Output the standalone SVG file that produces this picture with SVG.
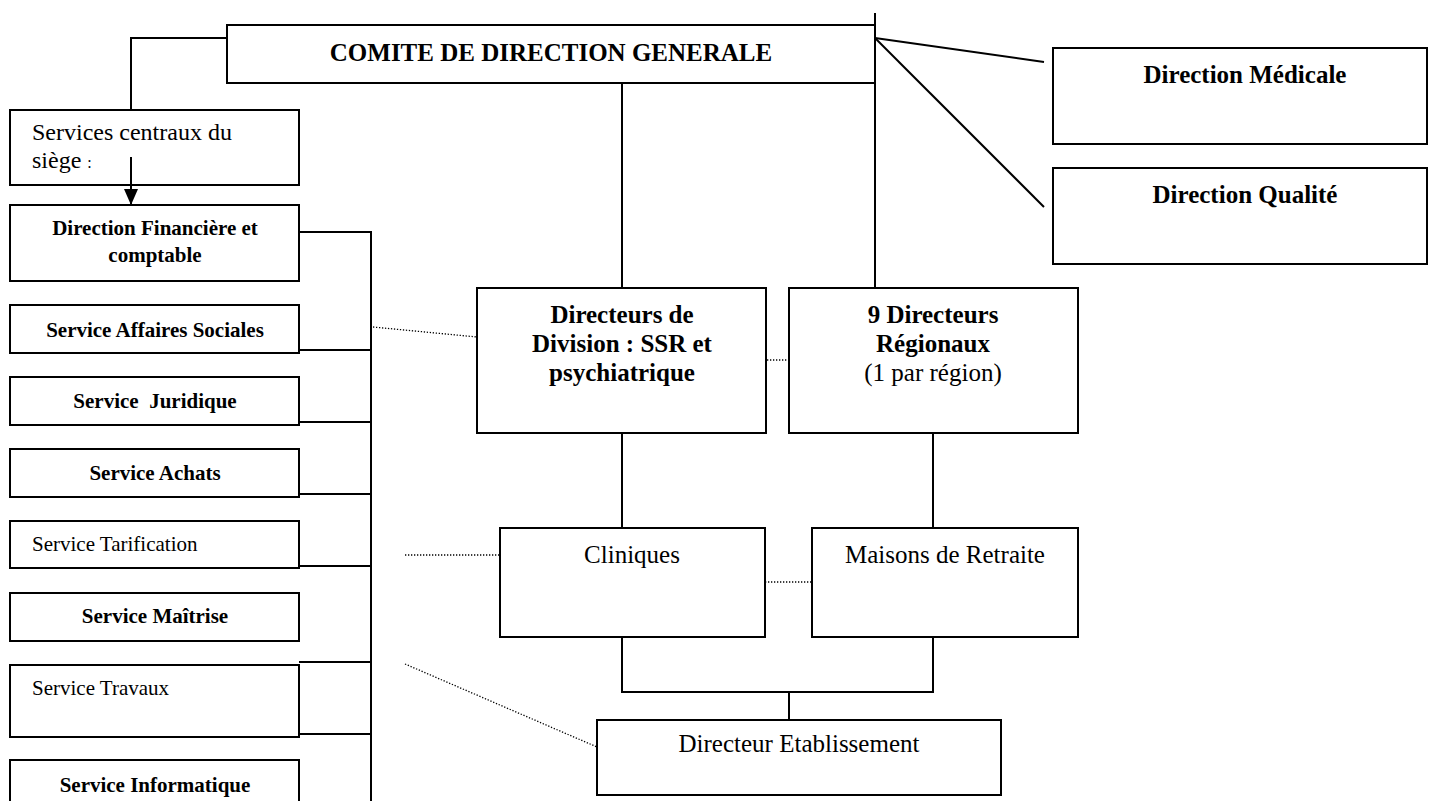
<svg xmlns="http://www.w3.org/2000/svg" width="1429" height="801" viewBox="0 0 1429 801">
  <style>
    .box { fill: #fff; stroke: #000; stroke-width: 2; }
    .link { fill: none; stroke: #000; stroke-width: 2; }
    .dot { fill: none; stroke: #000; stroke-width: 1.3; stroke-dasharray: 1.3 1.7; }
    text { font-family: "Liberation Serif", "Times New Roman", serif; fill: #000; }
    .big { font-size: 25px; }
    .mid { font-size: 24px; }
    .small { font-size: 21px; }
    .b { font-weight: bold; }
    .c { text-anchor: middle; }
  </style>
  <defs>
    <marker id="arrow" viewBox="0 0 16 14" refX="16" refY="7" markerWidth="16" markerHeight="14" markerUnits="userSpaceOnUse" orient="auto">
      <path d="M0,0 L16,7 L0,14 Z" fill="#000"/>
    </marker>
  </defs>

  <g id="comite">
    <rect class="box" x="227" y="25" width="648" height="58"/>
    <text class="big b c" x="551" y="61">COMITE DE DIRECTION GENERALE</text>
  </g>

  <g id="direction-medicale">
    <rect class="box" x="1053" y="48" width="374" height="96"/>
    <text class="big b c" x="1245" y="83">Direction Médicale</text>
  </g>

  <g id="direction-qualite">
    <rect class="box" x="1053" y="168" width="374" height="96"/>
    <text class="big b c" x="1245" y="203">Direction Qualité</text>
  </g>

  <g id="services-centraux">
    <rect class="box" x="10" y="110" width="289" height="75"/>
    <text class="mid" x="32" y="140">Services centraux du</text>
    <text class="mid" x="32" y="168">siège <tspan font-size="16">:</tspan></text>
  </g>

  <g id="direction-financiere">
    <rect class="box" x="10" y="205" width="289" height="76"/>
    <text class="small b c" x="155" y="235">Direction Financière et</text>
    <text class="small b c" x="155" y="262">comptable</text>
  </g>

  <g id="affaires-sociales">
    <rect class="box" x="10" y="305" width="289" height="48"/>
    <text class="small b c" x="155" y="337">Service Affaires Sociales</text>
  </g>

  <g id="juridique">
    <rect class="box" x="10" y="377" width="289" height="48"/>
    <text class="small b c" x="155" y="408" xml:space="preserve">Service  Juridique</text>
  </g>

  <g id="achats">
    <rect class="box" x="10" y="449" width="289" height="48"/>
    <text class="small b c" x="155" y="480">Service Achats</text>
  </g>

  <g id="tarification">
    <rect class="box" x="10" y="521" width="289" height="47"/>
    <text class="small" x="32" y="551">Service Tarification</text>
  </g>

  <g id="maitrise">
    <rect class="box" x="10" y="593" width="289" height="48"/>
    <text class="small b c" x="155" y="623">Service Maîtrise</text>
  </g>

  <g id="travaux">
    <rect class="box" x="10" y="665" width="289" height="72"/>
    <text class="small" x="32" y="695">Service Travaux</text>
  </g>

  <g id="informatique">
    <rect class="box" x="10" y="760" width="289" height="60"/>
    <text class="small b c" x="155" y="792">Service Informatique</text>
  </g>

  <g id="directeurs-division">
    <rect class="box" x="477" y="288" width="289" height="145"/>
    <text class="big b c" x="622" y="323">Directeurs de</text>
    <text class="big b c" x="622" y="352">Division : SSR et</text>
    <text class="big b c" x="622" y="381">psychiatrique</text>
  </g>

  <g id="directeurs-regionaux">
    <rect class="box" x="789" y="288" width="289" height="145"/>
    <text class="big b c" x="933" y="323">9 Directeurs</text>
    <text class="big b c" x="933" y="352">Régionaux</text>
    <text class="big c" x="933" y="381">(1 par région)</text>
  </g>

  <g id="cliniques">
    <rect class="box" x="500" y="528" width="265" height="109"/>
    <text class="big c" x="632" y="563">Cliniques</text>
  </g>

  <g id="maisons-retraite">
    <rect class="box" x="812" y="528" width="266" height="109"/>
    <text class="big c" x="945" y="563">Maisons de Retraite</text>
  </g>

  <g id="directeur-etablissement">
    <rect class="box" x="597" y="720" width="404" height="75"/>
    <text class="big c" x="799" y="752">Directeur Etablissement</text>
  </g>

  <!-- connectors, drawn over the boxes -->
  <g id="connectors">
    <polyline class="link" points="227,38 131,38 131,110"/>
    <line class="link" x1="131" y1="157" x2="131" y2="205" marker-end="url(#arrow)"/>
    <line class="link" x1="875" y1="13" x2="875" y2="288"/>
    <line class="link" x1="622" y1="83" x2="622" y2="288"/>
    <line class="link" x1="875" y1="38" x2="1044" y2="62"/>
    <line class="link" x1="875" y1="38" x2="1044" y2="207"/>
    <!-- services bus -->
    <polyline class="link" points="299,232 371,232 371,801"/>
    <line class="link" x1="299" y1="350" x2="371" y2="350"/>
    <line class="link" x1="299" y1="422" x2="371" y2="422"/>
    <line class="link" x1="299" y1="494" x2="371" y2="494"/>
    <line class="link" x1="299" y1="566" x2="371" y2="566"/>
    <line class="link" x1="299" y1="662" x2="371" y2="662"/>
    <line class="link" x1="299" y1="734" x2="371" y2="734"/>
    <!-- lower hierarchy -->
    <line class="link" x1="622" y1="433" x2="622" y2="528"/>
    <line class="link" x1="933" y1="433" x2="933" y2="528"/>
    <polyline class="link" points="622,637 622,692 933,692 933,637"/>
    <line class="link" x1="789" y1="692" x2="789" y2="720"/>
    <!-- dotted relations -->
    <line class="dot" x1="373" y1="327" x2="477" y2="337"/>
    <line class="dot" x1="767" y1="360" x2="789" y2="360"/>
    <line class="dot" x1="405" y1="555" x2="500" y2="555"/>
    <line class="dot" x1="765" y1="582" x2="812" y2="582"/>
    <line class="dot" x1="405" y1="664" x2="597" y2="747"/>
  </g>
</svg>
